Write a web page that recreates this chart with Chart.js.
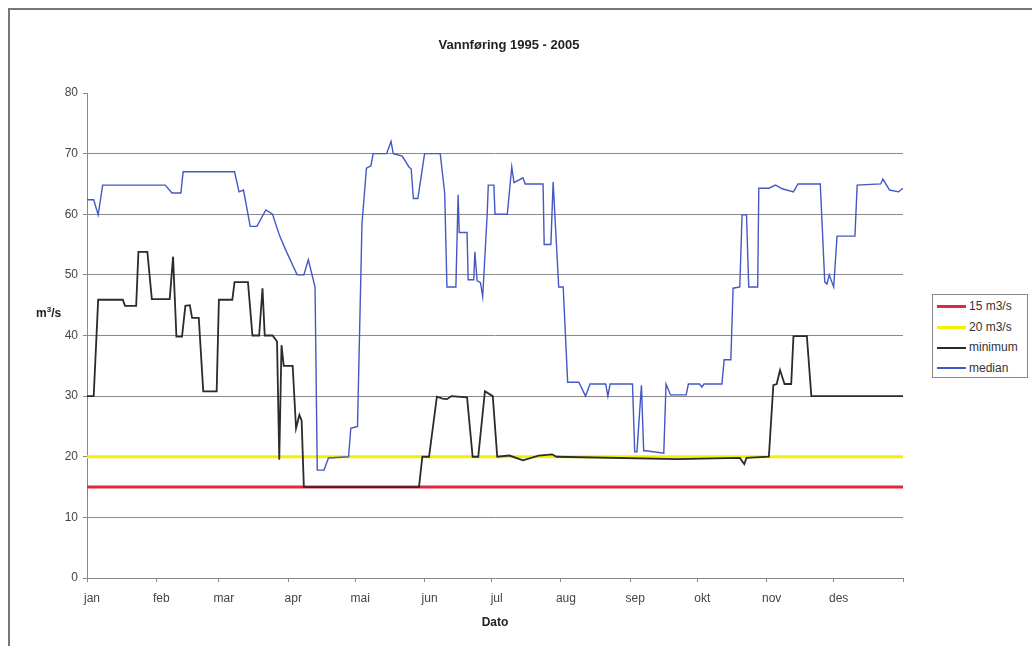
<!DOCTYPE html>
<html>
<head>
<meta charset="utf-8">
<script src="https://cdn.jsdelivr.net/npm/chart.js@4"></script>
<style>
  body { margin: 0; background: #fff; font-family: Arial, "Liberation Sans", sans-serif; }
  #wrap { position: relative; width: 1032px; height: 646px; overflow: hidden; }
  #frame { position: absolute; left: 8px; top: 8px; width: 1100px; height: 700px; border: 2px solid #777; }
  #title { position: absolute; left: 309px; top: 37px; width: 400px; text-align: center; font-weight: bold; font-size: 13px; color: #222; }
  #ylab { position: absolute; left: 36px; top: 305px; font-weight: bold; font-size: 12px; color: #222; }
  #ylab sup { font-size: 8px; }
  #legend { position: absolute; left: 932px; top: 294px; width: 94px; height: 82px; border: 1px solid #888; background: #fff; font-size: 12px; color: #333; }
  #legend div { position: absolute; left: 4px; height: 14px; line-height: 14px; white-space: nowrap; }
  #legend span { display: inline-block; width: 29px; vertical-align: middle; margin-right: 3px; }
  canvas { position: absolute; left: 0; top: 0; }
</style>
</head>
<body>
<div id="wrap">
  <div id="frame"></div>
  <canvas id="flowChart" width="1032" height="646"></canvas>
  <div id="title">Vannføring 1995 - 2005</div>
  <div id="ylab">m<sup>3</sup>/s</div>
  <div id="legend"></div>
</div>
<script>
const Months = ["jan", "feb", "mar", "apr", "mai", "jun", "jul", "aug", "sep", "okt", "nov", "des"];
const MonthStart = [0, 31, 59, 90, 120, 151, 181, 212, 243, 273, 304, 334, 365];

// limits, drawn across the whole year
const LimitDays = [0, 365];
const Limit15 = [15, 15];
const Limit20 = [20, 20];

// median flow, day of year -> m3/s
const MedianDays = [0, 3, 5, 7, 35, 38, 42, 43, 66, 68, 70, 73, 76, 80, 83, 86, 89, 94, 97, 99, 102, 103, 106, 108, 117, 118, 121,
  123, 125, 127, 128, 134, 136, 137, 141, 144, 145, 146, 148, 151, 158, 160, 161, 165, 166, 166.5, 170, 170.5, 173, 173.5, 174.5,
  176, 177, 179, 179.5, 182, 182.5, 188, 190, 191, 195, 196, 204, 204.5, 207.5, 208.5, 211, 213, 215, 220, 223, 225, 232, 233,
  234, 244, 245, 246, 248, 249, 250, 258, 259, 261, 268, 269, 274, 275, 276, 284, 285, 288, 289, 292, 293, 295, 296, 300, 300.5,
  305, 308, 311, 316, 318, 328, 330, 331, 332, 334, 335.5, 343.5, 344.5, 355, 356, 359, 363, 365];
const MedianFlow = [62.4, 62.4, 59.9, 64.8, 64.8, 63.5, 63.5, 67, 67, 63.7, 64, 58, 58, 60.7, 60, 56.6, 54, 50, 50, 52.5, 48, 17.8, 17.8, 19.8, 20, 24.7, 25,
  58.5, 67.6, 68, 70, 70, 72, 70, 69.6, 67.8, 67.5, 62.6, 62.6, 70, 70, 63.5, 48, 48, 63.2, 57, 57, 49.2, 49.2, 53.8, 49,
  48.7, 46.4, 60, 64.8, 64.8, 60, 60, 67.8, 65.2, 66, 65, 65, 55, 55, 65.3, 48, 48, 32.3, 32.3, 30, 32, 32, 30,
  32, 32, 20.8, 20.8, 31.8, 21, 21, 20.6, 32, 30.2, 30.2, 32, 32, 31.5, 32, 32, 36, 36, 47.8, 48, 59.9, 59.9, 48, 48, 64.3,
  64.3, 64.8, 64.2, 63.7, 65, 65, 48.8, 48.5, 50, 48, 56.4, 56.4, 64.8, 65, 65.8, 64, 63.7, 64.3];

// minimum flow, day of year -> m3/s
const MinimumDays = [0, 3, 5, 16, 17, 22, 23, 27, 29, 37, 38.5, 40, 42.5, 44, 46, 47, 50, 52, 58, 59, 65, 66, 72, 74, 77, 78.5, 79.5,
  83, 85, 86, 87, 88, 92, 93.5, 95, 96, 97, 148.5, 150, 153, 156.5, 159, 161, 163, 170, 172.5, 175, 178, 181.5, 183.5,
  189, 195, 202, 208, 210, 264, 292, 294, 295, 305, 307, 308.5, 310, 312, 315, 316, 322, 324, 365];
const MinimumFlow = [30, 30, 45.9, 45.9, 44.9, 44.9, 53.8, 53.8, 46, 46, 53, 39.8, 39.8, 44.9, 45, 42.9, 42.9, 30.8, 30.8, 45.9, 45.9, 48.8, 48.8, 40, 40, 47.8, 40,
  40, 39, 19.5, 38.4, 35, 35, 24.7, 26.9, 26, 15, 15, 20, 20, 29.9, 29.6, 29.5, 30, 29.8, 20, 20, 30.8, 30, 20,
  20.2, 19.4, 20.2, 20.4, 20, 19.6, 19.8, 18.8, 19.8, 20, 31.8, 32, 34.3, 32, 32, 39.9, 39.9, 30, 30];

const Series = [
  { label: "15 m3/s", days: LimitDays, flow: Limit15, color: "#e3263f", width: 3 },
  { label: "20 m3/s", days: LimitDays, flow: Limit20, color: "#f5ef00", width: 3 },
  { label: "minimum", days: MinimumDays, flow: MinimumFlow, color: "#2b2b2b", width: 1.8 },
  { label: "median", days: MedianDays, flow: MedianFlow, color: "#4358c4", width: 1.4 },
];

const toPoints = (days, flow) => days.map((d, i) => ({ x: d, y: flow[i] }));

// legend in the same order as the original
const legend = document.getElementById("legend");
Series.forEach((s, i) => {
  const row = document.createElement("div");
  row.style.top = 4 + i * 20.5 + "px";
  row.innerHTML = `<span style="border-top:${s.label.startsWith("m") ? 2 : 3}px solid ${s.color}"></span>${s.label}`;
  legend.appendChild(row);
});

const ctx = document.getElementById("flowChart").getContext("2d");
new Chart(ctx, {
  type: "line",
  data: {
    // reversed so median is drawn on top and the limits underneath
    datasets: Series.slice().reverse().map((s) => ({
      label: s.label,
      data: toPoints(s.days, s.flow),
      borderColor: s.color,
      borderWidth: s.width,
      pointRadius: 0,
      tension: 0,
      fill: false,
    })),
  },
  options: {
    responsive: false,
    animation: false,
    events: [],
    layout: { padding: { left: 40, right: 129, top: 93, bottom: 0 } },
    plugins: { legend: { display: false }, title: { display: false }, tooltip: { enabled: false } },
    scales: {
      x: {
        type: "linear",
        min: 0,
        max: 365,
        afterBuildTicks: (s) => { s.ticks = MonthStart.map((v) => ({ value: v })); },
        afterFit: (s) => { s.height = 68; },
        ticks: {
          callback: (v) => Months[MonthStart.indexOf(v)] || "",
          autoSkip: false,
          maxRotation: 0,
          labelOffset: 5,
          padding: 9,
          color: "#444",
          font: { family: "Arial", size: 12 },
        },
        grid: { drawOnChartArea: false, tickLength: 4, tickColor: "#888" },
        border: { color: "#888", width: 1 },
        title: { display: true, text: "Dato", color: "#222", font: { family: "Arial", size: 12, weight: "bold" }, padding: { top: 0, bottom: 16 } },
      },
      y: {
        min: 0,
        max: 80,
        afterFit: (s) => { s.width = 47; },
        ticks: { stepSize: 10, padding: 5, color: "#444", font: { family: "Arial", size: 12 } },
        grid: {
          color: (c) => (c.tick && c.tick.value > 0 && c.tick.value < 80 ? "#8a8a8a" : "rgba(0,0,0,0)"),
          tickColor: "#888",
          tickLength: 4,
          lineWidth: 1,
        },
        border: { color: "#888", width: 1 },
      },
    },
  },
});
</script>
</body>
</html>
